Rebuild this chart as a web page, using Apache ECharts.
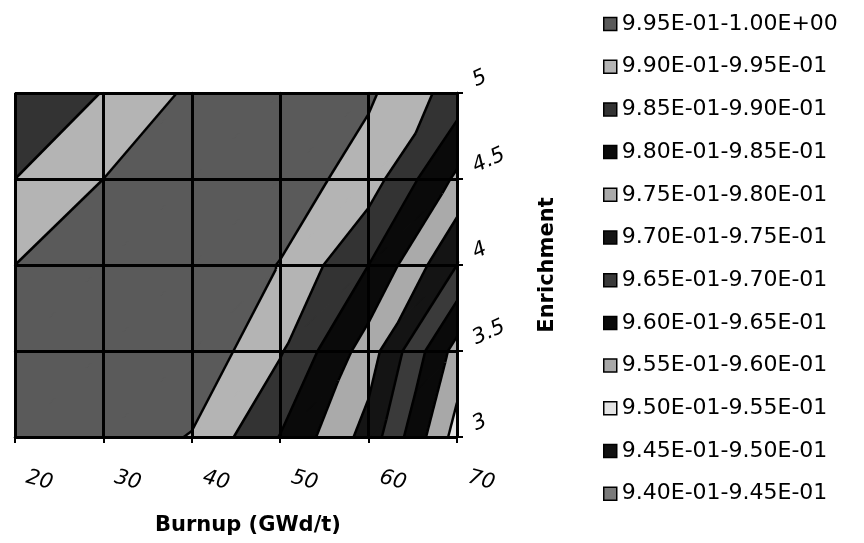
<!DOCTYPE html>
<html><head><meta charset="utf-8">
<script src="https://cdn.jsdelivr.net/npm/echarts@6/dist/echarts.min.js"></script>
<style>html,body{margin:0;padding:0;background:#fff}#c{width:864px;height:543px}</style>
</head><body><div id="c"></div>
<script>
// Grid axes
const burnup = [20, 30, 40, 50, 60, 70];
const enrichment = [3, 3.5, 4, 4.5, 5];
// Surface values, one row per enrichment (values at burnup 20..70)
const rowE30 = [0.998, 0.998, 0.9947, 0.9848, 0.973, 0.953];
const rowE35 = [0.997, 0.999, 0.999, 0.9905, 0.9775, 0.958];
const rowE40 = [0.995, 0.998, 0.999, 0.9948, 0.985, 0.970];
const rowE45 = [0.990, 0.995, 0.998, 0.998, 0.9925, 0.979];
const rowE50 = [0.9876, 0.9901, 0.996, 0.997, 0.9958, 0.9878];
// Contour bands (lowest first)
const bandEdges = [0.94, 0.945, 0.95, 0.955, 0.96, 0.965, 0.97, 0.975, 0.98, 0.985, 0.99, 0.995, 1.0];
const bandLabels = ['9.40E-01-9.45E-01','9.45E-01-9.50E-01','9.50E-01-9.55E-01','9.55E-01-9.60E-01',
  '9.60E-01-9.65E-01','9.65E-01-9.70E-01','9.70E-01-9.75E-01','9.75E-01-9.80E-01',
  '9.80E-01-9.85E-01','9.85E-01-9.90E-01','9.90E-01-9.95E-01','9.95E-01-1.00E+00'];
const bandColors = ['#7a7a7a','#111111','#e4e4e4','#a8a8a8','#0a0a0a','#3a3a3a',
  '#141414','#aaaaaa','#0a0a0a','#333333','#b4b4b4','#5a5a5a'];

const rows = [rowE30, rowE35, rowE40, rowE45, rowE50];
function node(i, j) { return { x: burnup[i], y: enrichment[j], v: rows[j][i] }; }
function triangle(i, j, t) {
  return t === 0 ? [node(i, j), node(i + 1, j), node(i + 1, j + 1)]
                 : [node(i, j), node(i + 1, j + 1), node(i, j + 1)];
}
const triData = [];
for (let j = 0; j < enrichment.length - 1; j++)
  for (let i = 0; i < burnup.length - 1; i++)
    for (let t = 0; t < 2; t++) triData.push([burnup[i], enrichment[j], t]);

function clipHalf(pts, f) {
  const out = [];
  for (let k = 0; k < pts.length; k++) {
    const a = pts[k], b = pts[(k + 1) % pts.length];
    const fa = f(a), fb = f(b);
    if (fa >= 0) out.push(a);
    if ((fa >= 0) !== (fb >= 0)) {
      const s = fa / (fa - fb);
      out.push({ x: a.x + s * (b.x - a.x), y: a.y + s * (b.y - a.y), v: a.v + s * (b.v - a.v) });
    }
  }
  return out;
}
function triFromApi(api) {
  const i = burnup.indexOf(api.value(0)), j = enrichment.indexOf(api.value(1));
  return triangle(i, j, api.value(2));
}

const series = [];
for (let k = bandLabels.length - 1; k >= 0; k--) {
  const lo = bandEdges[k], hi = bandEdges[k + 1], color = bandColors[k];
  series.push({
    type: 'custom', name: bandLabels[k], z: 2,
    itemStyle: { color: color, borderColor: '#000', borderWidth: 1 },
    encode: { x: 0, y: 1 },
    data: triData,
    silent: true,
    renderItem: function (params, api) {
      let pts = triFromApi(api);
      pts = clipHalf(pts, p => p.v - lo);
      pts = clipHalf(pts, p => hi - p.v);
      if (pts.length < 3) return null;
      return { type: 'polygon', shape: { points: pts.map(p => api.coord([p.x, p.y])) },
        style: { fill: color, stroke: color, lineWidth: 1.2 } };
    }
  });
}
// contour boundary lines
series.push({
  type: 'custom', name: 'contours', z: 3, silent: true,
  encode: { x: 0, y: 1 }, data: triData,
  renderItem: function (params, api) {
    const tri = triFromApi(api);
    const children = [];
    for (let L = 1; L < bandEdges.length - 1; L++) {
      const lev = bandEdges[L];
      const pts = [];
      for (let k = 0; k < 3; k++) {
        const a = tri[k], b = tri[(k + 1) % 3];
        const fa = a.v - lev, fb = b.v - lev;
        if ((fa >= 0) !== (fb >= 0)) {
          const s = fa / (fa - fb);
          pts.push(api.coord([a.x + s * (b.x - a.x), a.y + s * (b.y - a.y)]));
        }
      }
      if (pts.length === 2) children.push({ type: 'line',
        shape: { x1: pts[0][0], y1: pts[0][1], x2: pts[1][0], y2: pts[1][1] },
        style: { stroke: '#000', lineWidth: 2.5 } });
    }
    return { type: 'group', children: children };
  }
});

const chart = echarts.init(document.getElementById('c'), null, { renderer: 'canvas' });
chart.setOption({
  animation: false,
  backgroundColor: '#fff',
  grid: { left: 15, right: 407, top: 93, bottom: 106 },
  legend: {
    orient: 'vertical', left: 603, top: 13, padding: 0,
    itemWidth: 13, itemHeight: 13, itemGap: 20.7, icon: 'rect',
    data: bandLabels.slice().reverse(),
    itemStyle: { borderColor: '#000', borderWidth: 1.5 },
    textStyle: { fontSize: 22, fontFamily: 'DejaVu Sans', color: '#000', lineHeight: 22 },
    selectedMode: false
  },
  xAxis: {
    type: 'value', min: 20, max: 70, interval: 10, z: 5,
    name: 'Burnup (GWd/t)', nameLocation: 'middle', nameGap: 78,
    nameTextStyle: { fontSize: 21, fontWeight: 'bold', fontFamily: 'DejaVu Sans', color: '#000', padding: [0, 0, 0, 24] },
    axisLine: { lineStyle: { color: '#000', width: 2.5 } },
    axisTick: { show: true, length: 6, lineStyle: { color: '#000', width: 2 } },
    splitLine: { show: true, lineStyle: { color: '#000', width: 3 } },
    axisLabel: { color: '#000', fontSize: 21, fontStyle: 'italic', fontFamily: 'DejaVu Sans',
      rotate: -15, align: 'center', verticalAlign: 'top', margin: 26, padding: [0, 0, 0, 56] }
  },
  yAxis: {
    type: 'value', min: 3, max: 5, interval: 0.5, position: 'right', z: 5,
    name: 'Enrichment', nameLocation: 'middle', nameGap: 80, nameRotate: 90,
    nameTextStyle: { fontSize: 21, fontWeight: 'bold', fontFamily: 'DejaVu Sans', color: '#000' },
    axisLine: { show: true, lineStyle: { color: '#000', width: 2.5 } },
    axisTick: { show: true, length: 6, lineStyle: { color: '#000', width: 2 } },
    splitLine: { show: true, lineStyle: { color: '#000', width: 3 } },
    axisLabel: { color: '#000', fontSize: 21, fontStyle: 'italic', fontFamily: 'DejaVu Sans',
      rotate: 25, margin: 22, align: 'left', verticalAlign: 'bottom', padding: [0, 0, 2, 0] }
  },
  series: series
});
</script></body></html>
